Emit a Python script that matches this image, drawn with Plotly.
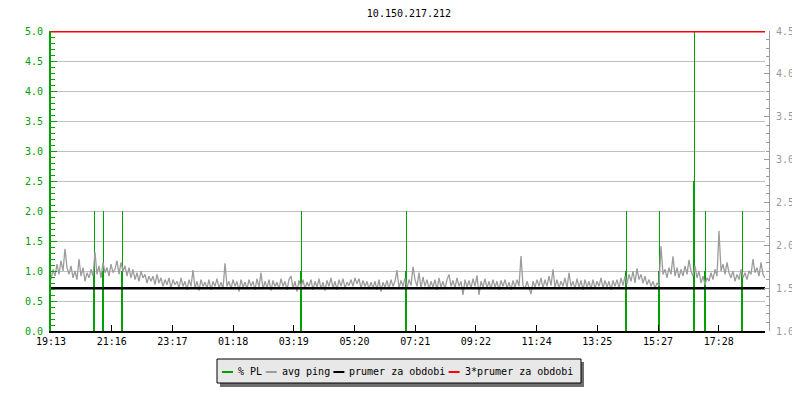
import plotly.graph_objects as go
import pandas as pd

# ---------------- data ----------------
title_text = "10.150.217.212"
start = pd.Timestamp("2024-01-01 19:13")
ping_step_min = 4

ping_values = [
    1.60, 1.72, 1.64, 1.78, 1.66, 1.82, 1.70, 1.96, 1.74, 1.66,
    1.76, 1.62, 1.70, 1.60, 1.84, 1.64, 1.74, 1.58, 1.68, 1.62,
    1.72, 1.64, 1.92, 1.66, 1.76, 1.62, 1.80, 1.68, 1.74, 1.64,
    1.78, 1.68, 1.72, 1.82, 1.66, 1.80, 1.70, 1.76, 1.64, 1.74,
    1.62, 1.72, 1.60, 1.68, 1.58, 1.70, 1.62, 1.66, 1.56, 1.64,
    1.58, 1.64, 1.54, 1.66, 1.56, 1.62, 1.52, 1.60, 1.54, 1.62,
    1.50, 1.60, 1.54, 1.58, 1.50, 1.62, 1.52, 1.58, 1.48, 1.60,
    1.52, 1.71, 1.50, 1.58, 1.47, 1.60, 1.52, 1.57, 1.50, 1.60,
    1.48, 1.58, 1.52, 1.61, 1.50, 1.57, 1.49, 1.79, 1.52, 1.58,
    1.49, 1.60, 1.52, 1.58, 1.46, 1.60, 1.51, 1.57, 1.49, 1.60,
    1.52, 1.58, 1.48, 1.61, 1.51, 1.68, 1.49, 1.58, 1.50, 1.60,
    1.47, 1.59, 1.52, 1.57, 1.49, 1.61, 1.52, 1.58, 1.48, 1.60,
    1.64, 1.50, 1.58, 1.46, 1.59, 1.51, 1.60, 1.49, 1.57, 1.52,
    1.60, 1.48, 1.58, 1.51, 1.61, 1.49, 1.57, 1.47, 1.59, 1.52,
    1.62, 1.50, 1.58, 1.48, 1.60, 1.52, 1.61, 1.50, 1.57, 1.53,
    1.60, 1.52, 1.62, 1.55, 1.61, 1.50, 1.59, 1.52, 1.58, 1.49,
    1.57, 1.50, 1.58, 1.48, 1.60, 1.46, 1.57, 1.51, 1.59, 1.49,
    1.60, 1.52, 1.58, 1.71, 1.50, 1.59, 1.52, 1.62, 1.50, 1.60,
    1.53, 1.75, 1.60, 1.52, 1.68, 1.50, 1.63, 1.52, 1.60, 1.49,
    1.58, 1.51, 1.60, 1.48, 1.62, 1.51, 1.58, 1.49, 1.60, 1.66,
    1.52, 1.59, 1.50, 1.62, 1.52, 1.58, 1.42, 1.60, 1.51, 1.59,
    1.50, 1.61, 1.52, 1.65, 1.42, 1.58, 1.51, 1.61, 1.50, 1.58,
    1.49, 1.60, 1.51, 1.58, 1.48, 1.59, 1.52, 1.60, 1.50, 1.57,
    1.48, 1.59, 1.51, 1.60, 1.52, 1.875, 1.53, 1.49, 1.58, 1.51,
    1.43, 1.58, 1.51, 1.60, 1.52, 1.62, 1.50, 1.60, 1.52, 1.64,
    1.53, 1.72, 1.51, 1.60, 1.50, 1.58, 1.52, 1.62, 1.50, 1.68,
    1.52, 1.58, 1.49, 1.61, 1.51, 1.59, 1.48, 1.60, 1.51, 1.58,
    1.49, 1.60, 1.50, 1.58, 1.52, 1.62, 1.50, 1.59, 1.51, 1.58,
    1.48, 1.59, 1.52, 1.60, 1.50, 1.62, 1.53, 1.64, 1.55, 1.66,
    1.58, 1.70, 1.56, 1.73, 1.60, 1.66, 1.56, 1.64, 1.54, 1.60,
    1.52, 1.58, 1.50, 1.56, 1.53, 1.99, 1.66, 1.72, 1.62, 1.74,
    1.66, 1.87, 1.64, 1.74, 1.62, 1.72, 1.64, 1.76, 1.66, 1.83,
    1.70, 1.64, 1.76, 1.62, 1.70, 1.56, 1.64, 1.54, 1.62, 1.58,
    1.68, 1.60, 1.72, 1.64, 2.17, 1.70, 1.78, 1.66, 1.80, 1.68,
    1.62, 1.70, 1.58, 1.66, 1.60, 1.72, 1.62, 1.68, 1.60, 1.70,
    1.66, 1.84, 1.68, 1.74, 1.64, 1.80, 1.66, 1.62,
]

mean_ping = 1.5  # prumer za obdobi

pl_times = ["20:38", "20:40", "20:56", "20:58", "21:34", "21:36",
            "03:32", "03:34", "07:02", "07:04", "14:22", "14:24",
            "15:28", "15:30", "16:38", "16:40", "17:00", "17:02",
            "18:14", "18:16"]
pl_values = [1.0, 2.0, 1.0, 2.0, 1.0, 2.0,
             1.0, 2.0, 1.0, 2.0, 1.0, 2.0,
             1.0, 2.0, 2.5, 5.0, 1.0, 2.0,
             1.0, 2.0]

tick_labels = ["19:13", "21:16", "23:17", "01:18", "03:19", "05:20",
               "07:21", "09:22", "11:24", "13:25", "15:27", "17:28"]

series_names = ["% PL", "avg ping", "prumer za obdobi", "3*prumer za obdobi"]
series_colors = ["#00a000", "#9c9c9c", "#000000", "#ff0000"]

# ---------------- helpers ----------------
span_min = 1428
tick_step_min = 121.4
x_end = start + pd.Timedelta(minutes=span_min)


def to_ts(hhmm):
    h, m = map(int, hhmm.split(":"))
    t = start.normalize() + pd.Timedelta(hours=h, minutes=m)
    if t < start:
        t += pd.Timedelta(days=1)
    return t


ping_x = [start + pd.Timedelta(minutes=ping_step_min * i) for i in range(len(ping_values))]
pl_x = [to_ts(t) for t in pl_times]
tickvals = [start + pd.Timedelta(minutes=tick_step_min * k) for k in range(len(tick_labels))]

GREEN, GRAY, BLACK, RED = series_colors
FONT = "DejaVu Sans Mono"

# page has an 8px body margin; the figure is laid out in page pixels minus that offset
OFF = 8
W, H = 792, 392
L, T = 51 - OFF, 31 - OFF
R = W - (769 - OFF)
B = H - (331 - OFF)
pw, ph = W - L - R, H - T - B


def px(x):
    return (x - OFF - L) / pw


def py(y):
    return (H - B - (y - OFF)) / ph


fig = go.Figure()
fig.add_trace(go.Bar(x=pl_x, y=pl_values, width=70000, marker_color=GREEN,
                     marker_line_width=0, name=series_names[0], yaxis="y"))
fig.add_trace(go.Scatter(x=ping_x, y=ping_values, mode="lines",
                         line=dict(color=GRAY, width=1.3), name=series_names[1], yaxis="y2"))
fig.add_trace(go.Scatter(x=[start, x_end], y=[mean_ping, mean_ping], mode="lines",
                         line=dict(color=BLACK, width=2.5), name=series_names[2], yaxis="y2"))
fig.add_trace(go.Scatter(x=[start, x_end], y=[3 * mean_ping, 3 * mean_ping], mode="lines",
                         line=dict(color=RED, width=3), name=series_names[3], yaxis="y2"))

fig.update_layout(
    width=W, height=H, autosize=False,
    margin=dict(l=L, r=R, t=T, b=B, pad=0, autoexpand=False),
    paper_bgcolor="white", plot_bgcolor="white",
    showlegend=False, barmode="overlay", bargap=0,
    font=dict(family=FONT, size=10, color="black"),
    title=dict(text=title_text, xref="container", yref="container",
               x=(409 - OFF) / W, y=1 - (13 - OFF) / H, xanchor="center", yanchor="middle",
               font=dict(family=FONT, size=10, color="black")),
    xaxis=dict(type="date", range=[start, x_end], domain=[0, (765 - OFF - L) / pw],
               tickmode="array", tickvals=tickvals, ticktext=tick_labels,
               ticks="inside", ticklen=6, tickcolor="black", tickwidth=1,
               showline=True, linecolor="black", linewidth=2,
               showgrid=False, zeroline=False, automargin=False,
               tickfont=dict(family=FONT, size=10, color="black")),
    yaxis=dict(range=[0, 5], tick0=0, dtick=0.5, tickformat=".1f",
               ticks="inside", ticklen=6, tickcolor=GREEN, tickwidth=1,
               showline=True, linecolor=GREEN, linewidth=2,
               showgrid=True, gridcolor="#c0c0c0", gridwidth=1, zeroline=False,
               ticklabelstandoff=4, automargin=False,
               minor=dict(dtick=0.1, ticks="inside", ticklen=4, tickcolor=GREEN, showgrid=False),
               tickfont=dict(family=FONT, size=10, color=GREEN)),
    yaxis2=dict(range=[1.0, 4.5], tick0=1.0, dtick=0.5, tickformat=".1f",
                overlaying="y", side="right", anchor="free", position=1.0,
                ticks="inside", ticklen=5, tickcolor=GRAY, tickwidth=1,
                showline=True, linecolor=GRAY, linewidth=1,
                showgrid=False, zeroline=False,
                ticklabelstandoff=4, automargin=False,
                minor=dict(dtick=0.1, ticks="inside", ticklen=3, tickcolor=GRAY, showgrid=False),
                tickfont=dict(family=FONT, size=10, color="#999999")),
)

# legend box with drop shadow (drawn manually to match the original)
fig.add_shape(type="rect", xref="paper", yref="paper",
              x0=px(220), x1=px(584), y0=py(387), y1=py(362),
              fillcolor="#6e6e6e", line=dict(width=0), layer="above")
fig.add_shape(type="rect", xref="paper", yref="paper",
              x0=px(217), x1=px(581), y0=py(383), y1=py(359),
              fillcolor="#e8e8e8", line=dict(color="black", width=1), layer="above")

cur = 222.0
char_w = 5.95
for name, color in zip(series_names, series_colors):
    fig.add_shape(type="line", xref="paper", yref="paper",
                  x0=px(cur), x1=px(cur + 11), y0=py(372), y1=py(372),
                  line=dict(color=color, width=2), layer="above")
    fig.add_annotation(xref="paper", yref="paper", x=px(cur + 14), y=py(371),
                       xanchor="left", yanchor="middle", showarrow=False,
                       text=name, font=dict(family=FONT, size=10, color="black"))
    cur = cur + 15 + char_w * len(name) + 5

fig.write_html("out.html")
